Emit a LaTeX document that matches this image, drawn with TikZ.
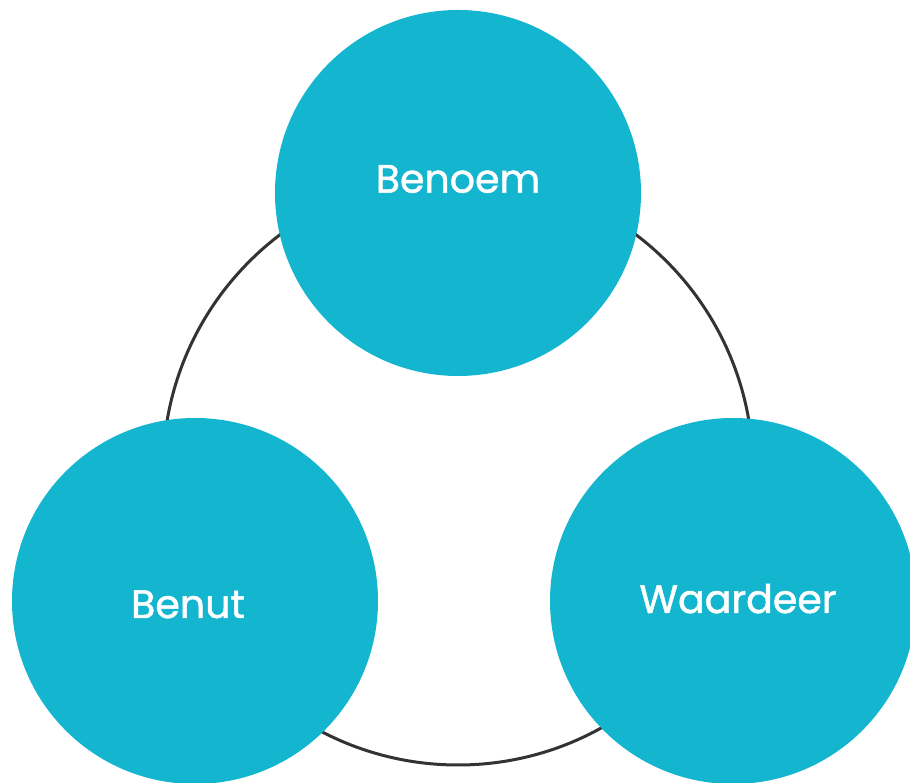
\documentclass[tikz,border=0pt]{standalone}
\usepackage{fontspec}
\setmainfont{Poppins}[BoldFont=Poppins,BoldFeatures={FakeBold=1.2}]
\definecolor{teal}{HTML}{14B5CE}
\definecolor{ring}{HTML}{333333}
\begin{document}
\begin{tikzpicture}[x=1pt,y=1pt,
  blob/.style={circle,fill=teal,draw=none,minimum size=366pt,inner sep=0pt},
  lbl/.style={anchor=base,text=white,font=\fontsize{39.5}{40}\selectfont\bfseries,inner sep=0pt}]
\useasboundingbox (0,0) rectangle (910,783);
\clip (0,0) rectangle (910,783);
\coordinate (mid) at (458,313);
\draw[ring,line width=3pt] (mid) circle (295);
\node[blob] (top) at (458,590) {};
\node[blob] (left) at (195,182) {};
\node[blob] (right) at (733,182) {};
\node[lbl] (t1) at (458,590.4) {Benoem};
\node[lbl] (t2) at (188,165) {Benut};
\node[lbl] (t3) at (738,170) {Waardeer};
\end{tikzpicture}
\end{document}
